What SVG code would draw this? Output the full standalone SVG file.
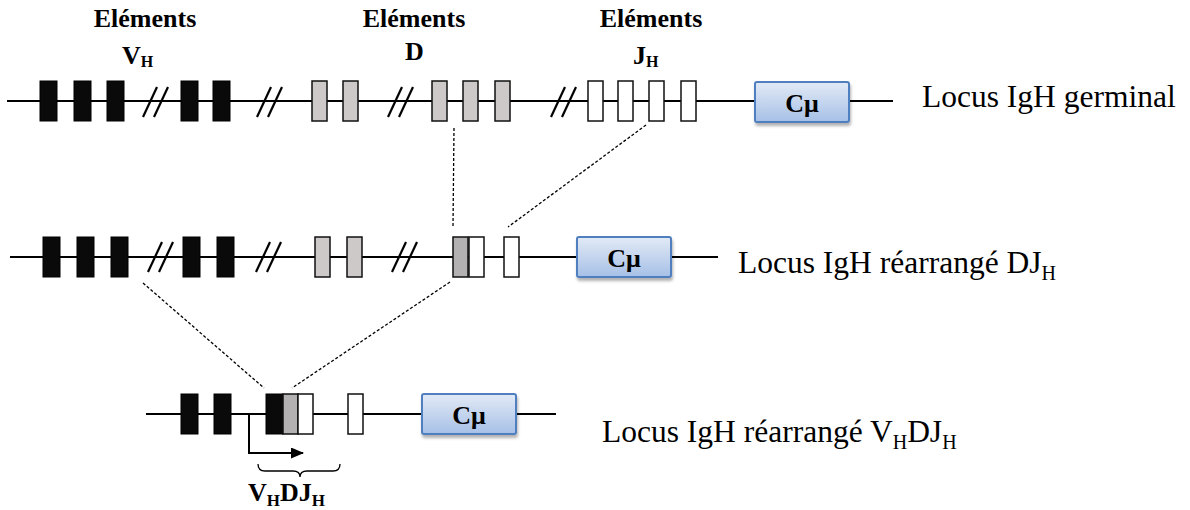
<svg xmlns="http://www.w3.org/2000/svg" width="1190" height="510" viewBox="0 0 1190 510">
<defs>
<linearGradient id="cg" x1="0" y1="0" x2="0" y2="1">
<stop offset="0" stop-color="#e2eaf6"/>
<stop offset="1" stop-color="#a6c0e6"/>
</linearGradient>
<filter id="sh" x="-10%" y="-10%" width="130%" height="140%">
<feDropShadow dx="1" dy="3" stdDeviation="1.5" flood-color="#000" flood-opacity="0.3"/>
</filter>
<marker id="ah" markerWidth="13" markerHeight="11" refX="12" refY="5.5" orient="auto" markerUnits="userSpaceOnUse">
<path d="M0,0 L13,5.5 L0,11 Z" fill="#000"/>
</marker>
<style>
.ln{stroke:#000;stroke-width:2;fill:none}
.sl{stroke:#000;stroke-width:2.2}
.bb{fill:#0a0a0a;stroke:#000;stroke-width:1}
.gb{fill:#cdc9c9;stroke:#111;stroke-width:1.5}
.dg{fill:#b3b1b1;stroke:#111;stroke-width:1.5}
.wb{fill:#fff;stroke:#111;stroke-width:1.5}
.cm{fill:url(#cg);stroke:#4f7fbf;stroke-width:2;filter:url(#sh)}
.cmt{font-family:"Liberation Serif",serif;font-weight:bold;font-size:26px;text-anchor:middle}
.ttl{font-family:"Liberation Serif",serif;font-weight:bold;font-size:26px}
.lbl{font-family:"Liberation Serif",serif;font-size:31.5px}
.dash{stroke:#000;stroke-width:1.3;stroke-dasharray:3 2;fill:none}
</style>
</defs>
<rect width="1190" height="510" fill="#fff"/>

<!-- Titles -->
<g id="title-vh"><text class="ttl" x="145" y="27" text-anchor="middle">Eléments</text><text class="ttl" x="122" y="64">V<tspan font-size="16" dy="3">H</tspan></text></g>
<g id="title-d"><text class="ttl" x="414" y="27" text-anchor="middle">Eléments</text><text class="ttl" x="405" y="60">D</text></g>
<g id="title-jh"><text class="ttl" x="651" y="27" text-anchor="middle">Eléments</text><text class="ttl" x="633" y="64">J<tspan font-size="16" dy="3">H</tspan></text></g>

<!-- Row 1: germinal -->
<g id="row1-line"><line class="ln" x1="7" y1="101" x2="755" y2="101"/><line class="ln" x1="849" y1="101" x2="893" y2="101"/></g>
<g id="row1-breaks">
<line class="sl" x1="143" y1="117" x2="157" y2="87"/><line class="sl" x1="154" y1="117" x2="168" y2="87"/>
<line class="sl" x1="257" y1="117" x2="271" y2="87"/><line class="sl" x1="268" y1="117" x2="282" y2="87"/>
<line class="sl" x1="388" y1="117" x2="402" y2="87"/><line class="sl" x1="399" y1="117" x2="413" y2="87"/>
<line class="sl" x1="551" y1="117" x2="565" y2="87"/><line class="sl" x1="562" y1="117" x2="576" y2="87"/>
</g>
<g id="r1-v1"><rect class="bb" x="40" y="81" width="17" height="40"/></g>
<g id="r1-v2"><rect class="bb" x="74" y="81" width="17" height="40"/></g>
<g id="r1-v3"><rect class="bb" x="107" y="81" width="17" height="40"/></g>
<g id="r1-v4"><rect class="bb" x="181" y="81" width="17" height="40"/></g>
<g id="r1-v5"><rect class="bb" x="213" y="81" width="17" height="40"/></g>
<g id="r1-d1"><rect class="gb" x="312" y="81" width="15" height="40"/></g>
<g id="r1-d2"><rect class="gb" x="343" y="81" width="15" height="40"/></g>
<g id="r1-d3"><rect class="gb" x="432" y="81" width="15" height="40"/></g>
<g id="r1-d4"><rect class="gb" x="463" y="81" width="15" height="40"/></g>
<g id="r1-d5"><rect class="gb" x="495" y="81" width="15" height="40"/></g>
<g id="r1-j1"><rect class="wb" x="588" y="81" width="15" height="40"/></g>
<g id="r1-j2"><rect class="wb" x="618" y="81" width="15" height="40"/></g>
<g id="r1-j3"><rect class="wb" x="649" y="81" width="15" height="40"/></g>
<g id="r1-j4"><rect class="wb" x="681" y="81" width="15" height="40"/></g>
<g id="r1-cmu"><rect class="cm" x="755" y="82" width="94" height="40" rx="2"/><text class="cmt" x="802" y="112">Cμ</text></g>
<g id="r1-label"><text class="lbl" x="922" y="107">Locus IgH germinal</text></g>

<!-- Row 2: DJ rearranged -->
<g id="row2-line"><line class="ln" x1="10" y1="257" x2="718" y2="257"/></g>
<g id="row2-breaks">
<line class="sl" x1="148" y1="272" x2="162" y2="242"/><line class="sl" x1="159" y1="272" x2="173" y2="242"/>
<line class="sl" x1="256" y1="272" x2="270" y2="242"/><line class="sl" x1="267" y1="272" x2="281" y2="242"/>
<line class="sl" x1="392" y1="272" x2="406" y2="242"/><line class="sl" x1="403" y1="272" x2="417" y2="242"/>
</g>
<g id="r2-v1"><rect class="bb" x="43" y="237" width="17" height="40"/></g>
<g id="r2-v2"><rect class="bb" x="77" y="237" width="17" height="40"/></g>
<g id="r2-v3"><rect class="bb" x="111" y="237" width="17" height="40"/></g>
<g id="r2-v4"><rect class="bb" x="183" y="237" width="17" height="40"/></g>
<g id="r2-v5"><rect class="bb" x="217" y="237" width="17" height="40"/></g>
<g id="r2-d1"><rect class="gb" x="315" y="237" width="15" height="40"/></g>
<g id="r2-d2"><rect class="gb" x="347" y="237" width="15" height="40"/></g>
<g id="r2-dj-d"><rect class="dg" x="453" y="237" width="15" height="40"/></g>
<g id="r2-dj-j"><rect class="wb" x="469" y="237" width="15" height="40"/></g>
<g id="r2-j"><rect class="wb" x="504" y="237" width="15" height="40"/></g>
<g id="r2-cmu"><rect class="cm" x="577" y="237" width="94" height="40" rx="2"/><text class="cmt" x="624" y="267">Cμ</text></g>
<g id="r2-label"><text class="lbl" x="738" y="273">Locus IgH réarrangé DJ<tspan font-size="20" dy="7">H</tspan></text></g>

<!-- Row 3: VDJ rearranged -->
<g id="row3-line"><line class="ln" x1="146" y1="414" x2="422" y2="414"/><line class="ln" x1="516" y1="414" x2="556" y2="414"/></g>
<g id="r3-v1"><rect class="bb" x="181" y="394" width="17" height="40"/></g>
<g id="r3-v2"><rect class="bb" x="214" y="394" width="17" height="40"/></g>
<g id="r3-vdj-v"><rect class="bb" x="266" y="394" width="17" height="40"/></g>
<g id="r3-vdj-d"><rect class="dg" x="283" y="394" width="15" height="40"/></g>
<g id="r3-vdj-j"><rect class="wb" x="298" y="394" width="15" height="40"/></g>
<g id="r3-j"><rect class="wb" x="348" y="394" width="15" height="40"/></g>
<g id="r3-cmu"><rect class="cm" x="422" y="394" width="94" height="40" rx="2"/><text class="cmt" x="469" y="424">Cμ</text></g>
<g id="r3-label"><text class="lbl" x="602" y="442">Locus IgH réarrangé V<tspan font-size="20" dy="7">H</tspan><tspan dy="-7">DJ</tspan><tspan font-size="20" dy="7">H</tspan></text></g>
<g id="r3-brace"><path d="M258,464 q0,7 7,7 H293 q7,0 7,6 q0,-6 7,-6 H333 q7,0 7,-7" stroke="#000" stroke-width="1.3" fill="none"/></g>
<g id="r3-vdj-label"><text class="ttl" x="248" y="501">V<tspan font-size="17" dy="5">H</tspan><tspan dy="-5">DJ</tspan><tspan font-size="17" dy="5">H</tspan></text></g>

<!-- Connectors -->
<g id="connectors">
<line class="dash" x1="454" y1="128" x2="453" y2="227"/>
<line class="dash" x1="646" y1="125" x2="508" y2="227"/>
<line class="dash" x1="143" y1="283" x2="264" y2="388"/>
<line class="dash" x1="450" y1="282" x2="292" y2="388"/>
<path d="M249,414 V453 H303" stroke="#000" stroke-width="2" fill="none" marker-end="url(#ah)"/>
</g>
</svg>
